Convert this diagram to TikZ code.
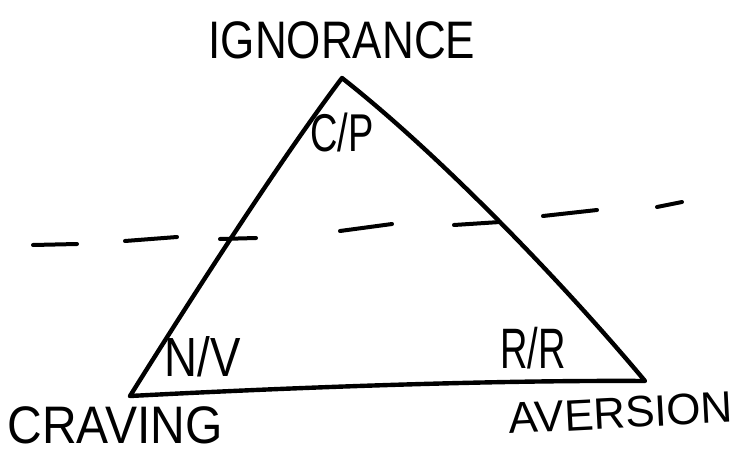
\documentclass[tikz,border=0pt]{standalone}
\usepackage{fontspec}
\newfontfamily\hand{Liberation Sans}
\begin{document}
\begin{tikzpicture}[x=1pt,y=-1pt,
  stroke/.style={line width=4.4pt, line cap=round, line join=round},
  dashseg/.style={line width=4pt, line cap=round},
  lbl/.style={inner sep=0pt, font=\hand}]
\useasboundingbox (0,0) rectangle (739,455);
% triangle corners
\coordinate (top) at (342,78);
\coordinate (bl) at (130,396);
\coordinate (br) at (645,381);
\draw[stroke] (bl) .. controls (190,300) and (280,160) .. (top)
  .. controls (440,155) and (564,284) .. (br)
  .. controls (500,380) and (300,387) .. (bl);
% dashed line
\draw[dashseg] (33,245) -- (77,244);
\draw[dashseg] (125,241) -- (177,237);
\draw[dashseg] (220,239) -- (256,238);
\draw[dashseg] (340,231) -- (392,224);
\draw[dashseg] (454,225) -- (500,222);
\draw[dashseg] (543,216) -- (597,210);
\draw[dashseg] (657,207) -- (682,202);
% labels
\node[lbl] (ign) at (342,40) {\fontsize{44}{48}\selectfont\scalebox{1}[1.2]{IGNORANCE}};
\node[lbl] (cp) at (342,132) {\fontsize{38}{40}\selectfont\scalebox{1}[1.4]{C/P}};
\node[lbl] (nv) at (203,357) {\fontsize{48}{50}\selectfont\scalebox{0.95}[1.15]{N/V}};
\node[lbl] (rr) at (533,348) {\fontsize{38}{40}\selectfont\scalebox{1}[1.5]{R/R}};
\node[lbl] (crav) at (115,425) {\fontsize{48}{50}\selectfont\scalebox{1}[1.1]{CRAVING}};
\node[lbl, rotate=3] (avers) at (621,413) {\fontsize{44}{48}\selectfont AVERSION};
\end{tikzpicture}
\end{document}
